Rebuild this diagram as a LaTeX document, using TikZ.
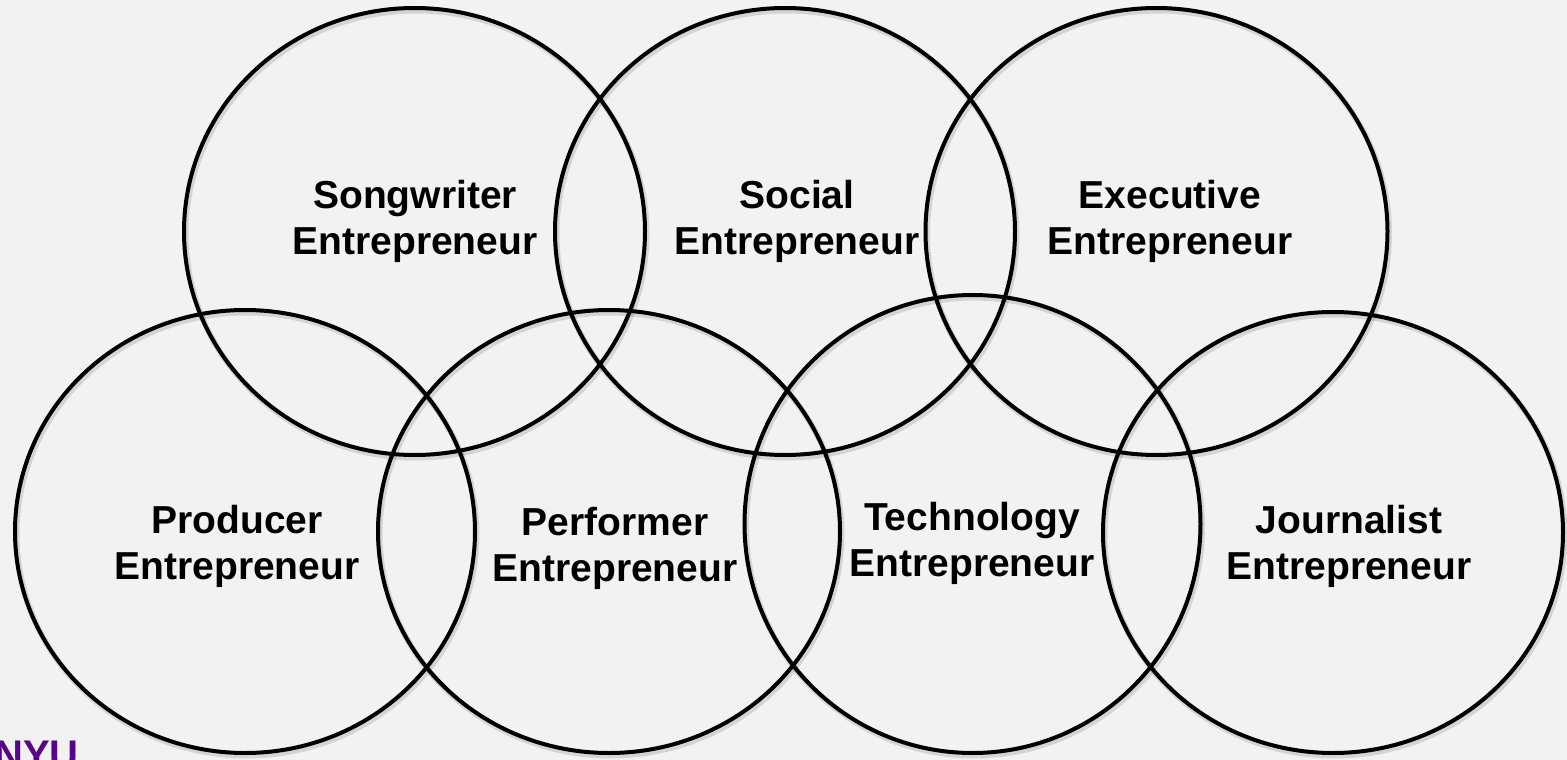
\documentclass[tikz,border=0pt]{standalone}
\usepackage{fontspec}
\setmainfont{Liberation Sans}
\definecolor{bg}{HTML}{F2F2F2}
\definecolor{nyu}{HTML}{57068C}
\begin{document}
\begin{tikzpicture}[x=1pt,y=-1pt,
  ring/.style={draw=black,line width=4pt},
  ringshadow/.style={draw=black,opacity=0.12,line width=6pt},
  lbl/.style={font=\fontsize{39}{46}\selectfont\bfseries,align=center,text=black}]
\useasboundingbox[fill=bg] (0,0) rectangle (1567,760);
% shadows of rings
\foreach \cx/\cy/\rx/\ry in {414.5/231.5/230.5/223.5, 785/231.5/230/223.5, 1156.5/231.5/231/223.5,
  245/531.5/230/221.5, 609/531.5/231/221.5, 972.5/524/228/229, 1333/532.5/230/220.5}
  \draw[ringshadow] (\cx+1.5,\cy+2.5) ellipse [x radius=\rx, y radius=\ry];
% rings
\draw[ring] (414.5,231.5) ellipse [x radius=230.5, y radius=223.5] coordinate (c1);
\draw[ring] (785,231.5) ellipse [x radius=230, y radius=223.5] coordinate (c2);
\draw[ring] (1156.5,231.5) ellipse [x radius=231, y radius=223.5] coordinate (c3);
\draw[ring] (245,531.5) ellipse [x radius=230, y radius=221.5] coordinate (c4);
\draw[ring] (609,531.5) ellipse [x radius=231, y radius=221.5] coordinate (c5);
\draw[ring] (972.5,524) ellipse [x radius=228, y radius=229] coordinate (c6);
\draw[ring] (1333,532.5) ellipse [x radius=230, y radius=220.5] coordinate (c7);
% labels
\node[lbl] (songwriter) at (415,221) {Songwriter\\Entrepreneur};
\node[lbl] (social) at (797,221) {Social\\Entrepreneur};
\node[lbl] (executive) at (1170,221) {Executive\\Entrepreneur};
\node[lbl] (producer) at (237,546) {Producer\\Entrepreneur};
\node[lbl] (performer) at (615,548) {Performer\\Entrepreneur};
\node[lbl] (technology) at (972,543) {Technology\\Entrepreneur};
\node[lbl] (journalist) at (1349,546) {Journalist\\Entrepreneur};
% NYU logo text (cut off at the bottom edge, as in the reference)
\node[anchor=north west,inner sep=0pt,text=nyu,font=\fontsize{40}{40}\selectfont\bfseries] (nyu) at (-6,741) {NYU};
\end{tikzpicture}
\end{document}
